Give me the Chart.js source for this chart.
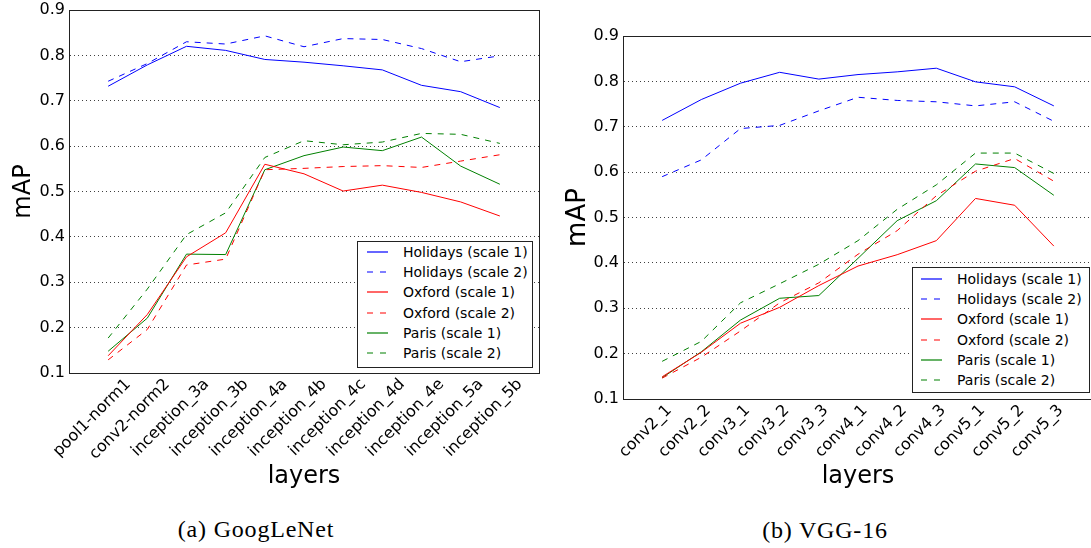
<!DOCTYPE html>
<html>
<head>
<meta charset="utf-8">
<script src="https://cdn.jsdelivr.net/npm/chart.js@4.4.0/dist/chart.umd.min.js"></script>
<style>
  html, body { margin: 0; padding: 0; background: #fff; overflow: hidden; }
  body { width: 1091px; height: 548px; position: relative; font-family: "DejaVu Sans", sans-serif; }
  canvas { position: absolute; top: 0; }
  #c1 { left: 0; }
  #c2 { left: 555px; }
  .legend { position: absolute; background: #fff; border: 1px solid #222; box-sizing: border-box; }
  .legend .row { display: flex; align-items: center; height: 20.2px; font-size: 14px; color: #000; white-space: nowrap; }
  .legend svg { display: block; }
  .caption { position: absolute; font-family: "Liberation Serif", "DejaVu Serif", serif; font-size: 24px; letter-spacing: 0.8px; transform: translate(-50%, -50%); white-space: nowrap; }
</style>
</head>
<body>
<canvas id="c1" width="550" height="500"></canvas>
<canvas id="c2" width="540" height="500"></canvas>
<div class="legend" id="leg1" style="left:357px; top:241px; width:176px; height:127px; padding-top:0;"></div>
<div class="legend" id="leg2" style="left:912px; top:267px; width:178px; height:126px; padding-top:1px;"></div>
<div class="caption" style="left:256px; top:529px;">(a) GoogLeNet</div>
<div class="caption" style="left:825px; top:530px;">(b) VGG-16</div>
<script>
const googLeNetLayers = ['pool1-norm1', 'conv2-norm2', 'inception_3a', 'inception_3b', 'inception_4a', 'inception_4b', 'inception_4c', 'inception_4d', 'inception_4e', 'inception_5a', 'inception_5b'];
const vggLayers = ['conv2_1', 'conv2_2', 'conv3_1', 'conv3_2', 'conv3_3', 'conv4_1', 'conv4_2', 'conv4_3', 'conv5_1', 'conv5_2', 'conv5_3'];
const yTicks = [0.1, 0.2, 0.3, 0.4, 0.5, 0.6, 0.7, 0.8, 0.9];
const seriesNames = ['Holidays (scale 1)', 'Holidays (scale 2)', 'Oxford (scale 1)', 'Oxford (scale 2)', 'Paris (scale 1)', 'Paris (scale 2)'];

// GoogLeNet
const gHolidays1 = [0.732, 0.779, 0.820, 0.811, 0.791, 0.785, 0.777, 0.768, 0.734, 0.720, 0.685];
const gHolidays2 = [0.743, 0.782, 0.830, 0.825, 0.843, 0.819, 0.837, 0.835, 0.815, 0.786, 0.799];
const gOxford1 = [0.138, 0.229, 0.356, 0.409, 0.560, 0.539, 0.501, 0.514, 0.498, 0.477, 0.446];
const gOxford2 = [0.129, 0.196, 0.338, 0.351, 0.548, 0.551, 0.555, 0.557, 0.553, 0.567, 0.581];
const gParis1 = [0.148, 0.221, 0.362, 0.361, 0.548, 0.579, 0.598, 0.590, 0.620, 0.556, 0.516];
const gParis2 = [0.177, 0.285, 0.405, 0.453, 0.575, 0.612, 0.603, 0.609, 0.628, 0.626, 0.606];

// VGG-16
const vHolidays1 = [0.714, 0.760, 0.796, 0.820, 0.805, 0.815, 0.821, 0.829, 0.799, 0.788, 0.746];
const vHolidays2 = [0.590, 0.627, 0.696, 0.703, 0.735, 0.765, 0.758, 0.755, 0.746, 0.755, 0.712];
const vOxford1 = [0.149, 0.203, 0.267, 0.302, 0.350, 0.393, 0.418, 0.449, 0.542, 0.527, 0.437];
const vOxford2 = [0.146, 0.192, 0.250, 0.312, 0.356, 0.419, 0.471, 0.548, 0.602, 0.630, 0.580];
const vParis1 = [0.147, 0.204, 0.274, 0.322, 0.328, 0.410, 0.493, 0.537, 0.618, 0.610, 0.549];
const vParis2 = [0.183, 0.227, 0.312, 0.354, 0.397, 0.449, 0.518, 0.572, 0.642, 0.642, 0.597];

const colors = ['#0000ff', '#0000ff', '#ff0000', '#ff0000', '#008000', '#008000'];
const dashes = [[], [6, 6], [], [6, 6], [], [6, 6]];

// draws the box around the plot area (matplotlib style frame)
const framePlugin = {
  id: 'frame',
  afterDraw(chart) {
    const { ctx, chartArea: a } = chart;
    ctx.save();
    ctx.strokeStyle = '#222';
    ctx.lineWidth = 1;
    ctx.strokeRect(Math.round(a.left) + 0.5, Math.round(a.top) + 0.5, Math.round(a.right - a.left), Math.round(a.bottom - a.top));
    ctx.restore();
  }
};

// fixed axis sizes so the plot area lands where the original one is
const fixSize = (prop, size) => (scale) => {
  scale[prop] = size;
  scale.paddingLeft = 0;
  scale.paddingRight = 0;
  scale.paddingTop = 0;
  scale.paddingBottom = 0;
};

const makeChart = (id, layers, values, box) => {
  const ctx = document.getElementById(id).getContext('2d');
  return new Chart(ctx, {
    type: 'line',
    data: {
      datasets: values.map((vals, i) => ({
        label: seriesNames[i],
        data: vals.map((v, j) => ({ x: j, y: v })),
        borderColor: colors[i],
        borderDash: dashes[i],
        borderWidth: 1,
        pointRadius: 0,
        tension: 0,
        fill: false
      }))
    },
    options: {
      responsive: false,
      animation: false,
      devicePixelRatio: 1,
      layout: { padding: box.padding },
      plugins: { legend: { display: false }, tooltip: { enabled: false } },
      scales: {
        x: {
          type: 'linear',
          min: -1,
          max: 11,
          afterFit: fixSize('height', box.xHeight),
          grid: { display: false, drawTicks: false },
          border: { display: true, color: '#222' },
          ticks: {
            stepSize: 1,
            autoSkip: false,
            minRotation: 45,
            maxRotation: 45,
            labelOffset: box.labelOffset,
            padding: 2,
            color: '#000',
            font: { family: 'DejaVu Sans', size: 16 },
            callback: (v) => (Number.isInteger(v) && layers[v] !== undefined ? layers[v] : '')
          },
          title: {
            display: true,
            text: 'layers',
            color: '#000',
            font: { family: 'DejaVu Sans', size: 24 },
            padding: { top: 0, bottom: 9 }
          }
        },
        y: {
          min: yTicks[0],
          max: yTicks[yTicks.length - 1],
          afterFit: fixSize('width', box.yWidth),
          afterBuildTicks: (scale) => { scale.ticks = yTicks.map(v => ({ value: v })); },
          grid: { color: 'rgba(0,0,0,0.75)', lineWidth: 1, drawTicks: false },
          border: { display: true, color: '#222', dash: [1, 3] },
          ticks: {
            padding: 4,
            color: '#000',
            font: { family: 'DejaVu Sans', size: 16 },
            callback: (v) => v.toFixed(1)
          },
          title: {
            display: true,
            text: 'mAP',
            color: '#000',
            font: { family: 'DejaVu Sans', size: box.yTitleSize },
            padding: { top: box.yTitlePad, bottom: 0 }
          }
        }
      }
    },
    plugins: [framePlugin]
  });
};

makeChart('c1', googLeNetLayers, [gHolidays1, gHolidays2, gOxford1, gOxford2, gParis1, gParis2],
  { padding: { left: 0, top: 10, right: 11, bottom: 0 }, yWidth: 69, xHeight: 127, labelOffset: 20, yTitleSize: 24, yTitlePad: 9 });
makeChart('c2', vggLayers, [vHolidays1, vHolidays2, vOxford1, vOxford2, vParis1, vParis2],
  { padding: { left: 0, top: 36, right: 2, bottom: 0 }, yWidth: 68, xHeight: 101, labelOffset: 7, yTitleSize: 26, yTitlePad: 8 });

// legends drawn as html boxes inside the plot areas
const buildLegend = (id, indent) => {
  const el = document.getElementById(id);
  seriesNames.forEach((name, i) => {
    const row = document.createElement('div');
    row.className = 'row';
    const dash = dashes[i].length ? 'stroke-dasharray="6,7"' : '';
    row.innerHTML = `<svg width="21" height="4" style="margin-left:${indent}px;margin-right:15px"><line x1="0" y1="2" x2="21" y2="2" stroke="${colors[i]}" stroke-width="1.2" ${dash}/></svg><span>${name}</span>`;
    el.appendChild(row);
  });
};
buildLegend('leg1', 9);
buildLegend('leg2', 8);
</script>
</body>
</html>
